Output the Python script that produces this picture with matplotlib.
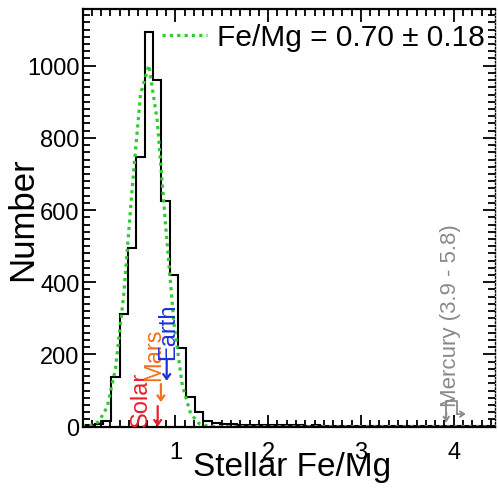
import numpy as np
import matplotlib
matplotlib.use("Agg")
import matplotlib.pyplot as plt
from matplotlib.ticker import MultipleLocator

plt.rcParams['font.family'] = ['Liberation Sans', 'DejaVu Sans']

# histogram of stellar Fe/Mg (bin width 0.09, first edge -0.05)
bin_start = -0.05
bin_width = 0.09
counts = [3, 4, 8, 17, 138, 312, 495, 747, 1094, 960,
          624, 420, 219, 82, 40, 17, 10, 8, 7, 6,
          6, 5, 5, 4, 5, 4, 4, 3, 4, 3,
          3, 3, 2, 3, 2, 3, 2, 2, 2, 3,
          2, 2, 2, 1, 2, 2, 1, 2, 1, 1]
# gaussian fit read at bin centres (0 beyond the listed values)
fit_vals = [0.5, 3, 14, 54, 160, 368, 660, 921, 1001, 848,
            559, 287, 115, 36, 9, 2]
fit_label = "Fe/Mg = 0.70 \u00b1 0.18"

# reference compositions
ref_names = ["Solar", "Mars", "Earth"]
ref_fe_mg = [0.81, 0.845, 0.907]
ref_colors = ["#e8202a", "#f07020", "#2030d8"]
mercury_label = "Mercury (3.9 - 5.8)"

edges = bin_start + bin_width * np.arange(len(counts) + 1)
centres = edges[:-1] + bin_width / 2
fit = np.zeros(len(counts))
fit[:len(fit_vals)] = fit_vals

fig = plt.figure(figsize=(4.98, 4.89), dpi=100)
ax = fig.add_axes([0.1657, 0.1254, 0.8283, 0.8542])

ax.stairs(counts, edges, color="k", lw=1.5, baseline=None)
ax.plot(centres, fit, color="#2ecc2e", lw=2.3, ls=(0, (1, 1.3)), label=fit_label)

# labels + arrows for Solar / Mars / Earth
txt_pos = [(0.625, 3), (0.77, 128), (0.925, 188)]
arr = [(57, 0), (118, 68), (187, 127)]
for name, xv, c, (tx, ty), (y0, y1) in zip(ref_names, ref_fe_mg, ref_colors, txt_pos, arr):
    ax.text(tx, ty, name, color=c, rotation=90, ha="center", va="bottom", fontsize=17)
    ax.annotate("", xy=(xv, y1), xytext=(xv, y0),
                arrowprops=dict(arrowstyle="->,head_length=0.35,head_width=0.25", color=c, lw=1.6,
                                shrinkA=0, shrinkB=0))

# Mercury range marker
gray = "#8a8a8a"
ax.text(3.96, 57, mercury_label, color=gray, rotation=90, ha="center", va="bottom", fontsize=16)
ax.plot([3.92, 3.92, 4.03, 4.03], [17, 72, 72, 35], color=gray, lw=1.3)
ax.annotate("", xy=(3.92, 12), xytext=(3.92, 40),
            arrowprops=dict(arrowstyle="->,head_length=0.3,head_width=0.2", color=gray, lw=1.3,
                            shrinkA=0, shrinkB=0))
ax.annotate("", xy=(4.13, 35), xytext=(4.03, 35),
            arrowprops=dict(arrowstyle="->,head_length=0.3,head_width=0.2", color=gray, lw=1.3,
                            shrinkA=0, shrinkB=0))

ax.set_xlim(0, 4.445)
ax.set_ylim(0, 1157)
ax.set_xticks([1, 2, 3, 4])
ax.xaxis.set_minor_locator(MultipleLocator(0.1))
ax.set_yticks([0, 200, 400, 600, 800, 1000])
ax.yaxis.set_minor_locator(MultipleLocator(20))
ax.tick_params(which="both", direction="in", top=True, right=True, width=1.3)
ax.tick_params(which="major", length=9, labelsize=17)
ax.tick_params(which="minor", length=5)
ax.tick_params(axis="x", which="major", pad=10)
ax.tick_params(axis="y", which="major", pad=2)

for s in ["left", "bottom", "top"]:
    ax.spines[s].set_linewidth(1.6)
ax.spines["right"].set_linestyle((0, (1, 1.5)))
ax.spines["right"].set_linewidth(1.0)

ax.set_xlabel("Stellar Fe/Mg", fontsize=24)
ax.set_ylabel("Number", fontsize=25)
ax.xaxis.set_label_coords(0.508, -0.058)
ax.yaxis.set_label_coords(-0.106, 0.5)

ax.legend(loc="center left", bbox_to_anchor=(0.1927, 0.933), frameon=False, fontsize=21.5,
          handlelength=1.52, handletextpad=0.33, borderpad=0, borderaxespad=0)

fig.savefig("out.png", dpi=100)
